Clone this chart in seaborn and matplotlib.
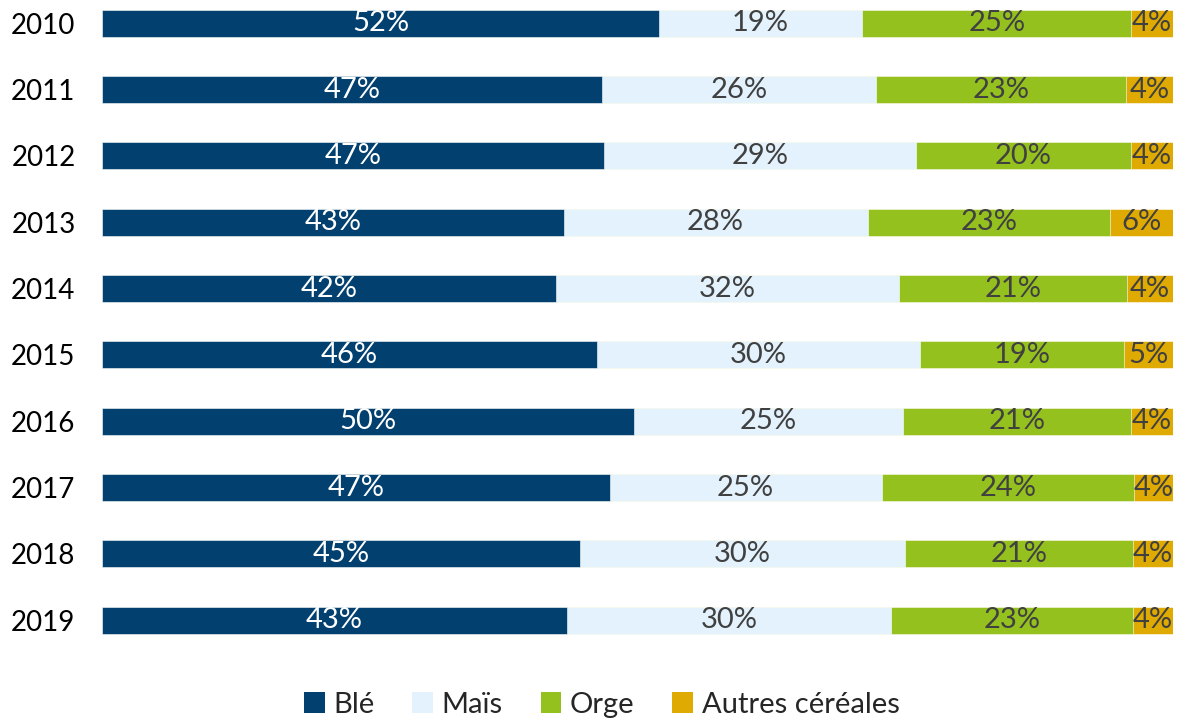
import numpy as np
import pandas as pd
import seaborn as sns
import matplotlib.pyplot as plt
from matplotlib.patches import Patch

# Shares (%)
years = ['2010', '2011', '2012', '2013', '2014', '2015', '2016', '2017', '2018', '2019']
ble = [52.0, 46.7, 46.9, 43.1, 42.4, 46.2, 49.7, 47.4, 44.6, 43.4]
mais = [19.0, 25.6, 29.1, 28.4, 32.0, 30.2, 25.1, 25.4, 30.4, 30.3]
orge = [25.1, 23.3, 20.1, 22.6, 21.3, 19.0, 21.3, 23.6, 21.3, 22.6]
autres = [3.9, 4.4, 3.9, 5.9, 4.3, 4.6, 3.9, 3.6, 3.7, 3.7]

series = ['Blé', 'Maïs', 'Orge', 'Autres céréales']
colors = ['#02406f', '#e3f2fc', '#95c11f', '#dfaa02']
text_colors = ['white', '#404040', '#404040', '#404040']

df = pd.DataFrame({'year': years, 'Blé': ble, 'Maïs': mais,
                   'Orge': orge, 'Autres céréales': autres})

sns.set_theme(style='white')
plt.rcParams['font.family'] = ['Lato', 'DejaVu Sans']

fig, ax = plt.subplots(figsize=(11.8, 7.22), dpi=100)
fig.subplots_adjust(left=0.0864, right=0.994, top=1.0, bottom=0.0859)

# stacked bars: draw cumulative totals, widest first
cum = df[series].cumsum(axis=1)
for s, c in reversed(list(zip(series, colors))):
    sns.barplot(data=cum.assign(year=df['year']), x=s, y='year', orient='h',
                color=c, width=0.41, ax=ax, saturation=1,
                edgecolor='white', linewidth=0.4)

# labels in the middle of each segment
for i, row in df.iterrows():
    left = 0
    for s, tc in zip(series, text_colors):
        v = row[s]
        ax.text(left + v / 2, i, f'{v:.0f}%', ha='center', va='center',
                color=tc, fontsize=21)
        left += v

ax.set_xlim(0, 100)
ax.set_ylim(9.6, -0.35)
ax.set_xlabel('')
ax.set_ylabel('')
ax.set_xticks([])
ax.tick_params(axis='y', length=0, labelsize=20, pad=19, labelcolor='black')
for sp in ax.spines.values():
    sp.set_visible(False)

handles = [Patch(facecolor=c, edgecolor='none') for c in colors]
fig.legend(handles, series, loc='center', bbox_to_anchor=(0.51, 0.024), ncol=4,
           frameon=False, handlelength=0.7, handleheight=0.7,
           handletextpad=0.3, columnspacing=1.3, fontsize=21)

fig.savefig('out.png', dpi=100)
